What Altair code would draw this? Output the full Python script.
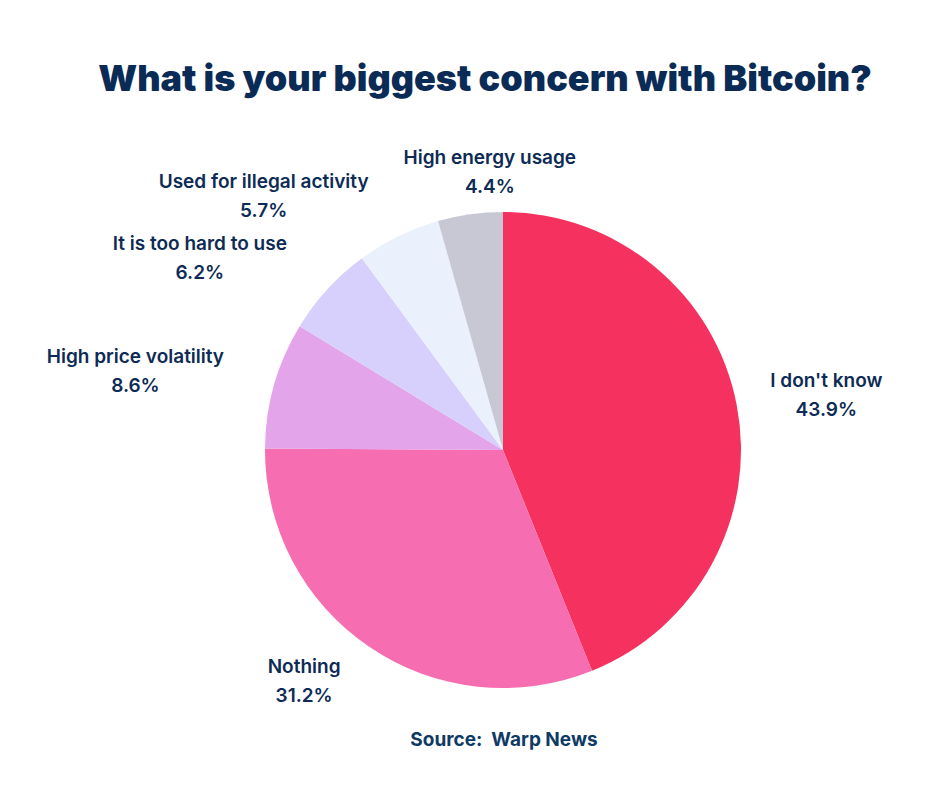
import math
import altair as alt
import pandas as pd

# ---- data ----
categories = ["I don't know", "Nothing", "High price volatility",
              "It is too hard to use", "Used for illegal activity", "High energy usage"]
values = [43.9, 31.2, 8.6, 6.2, 5.7, 4.4]
colors = ["#F5315F", "#F66DB1", "#E4A4EA", "#D8D0FC", "#EBF0FD", "#C8C8D4"]

title_text = "What is your biggest concern with Bitcoin?"
source_text = "Source:\u00a0\u00a0Warp News"

# ---- layout (label placement relative to slice mid-angle) ----
label_radius = [328, 305, 376, 359, 349, 278]
label_angle_shift = [1.3, 6.5, -3.7, -10.1, -17.2, 5.2]

W, H = 924, 772
CX, CY = 495, 442
R = 238
TEXT = "#0D2B55"
FONT = "Inter"

df = pd.DataFrame({"category": categories, "value": values,
                   "order": list(range(len(categories)))})
df["pct"] = [f"{v:.1f}%" for v in values]

total = sum(values)
cum = 0.0
lx, ly = [], []
for i, v in enumerate(values):
    mid = (cum + v / 2) / total * 360 + label_angle_shift[i]
    cum += v
    a = math.radians(mid)
    lx.append(label_radius[i] * math.sin(a))
    ly.append(label_radius[i] * math.cos(a))
df["lx"] = lx
df["ly"] = ly

pie = alt.Chart(df).mark_arc(outerRadius=R).encode(
    theta=alt.Theta("value:Q", stack=True),
    color=alt.Color("category:N", scale=alt.Scale(domain=categories, range=colors), legend=None),
    order=alt.Order("order:Q"),
    x=alt.value(CX),
    y=alt.value(CY),
)

xs = alt.X("lx:Q", scale=alt.Scale(domain=[-CX, W - CX]), axis=None)
ys = alt.Y("ly:Q", scale=alt.Scale(domain=[-(H - CY), CY]), axis=None)

lab = alt.Chart(df).mark_text(font=FONT, fontSize=19, fontWeight=600, color=TEXT,
                              baseline="middle", align="center", dy=-14).encode(
    x=xs, y=ys, text="category:N")
pct = alt.Chart(df).mark_text(font=FONT, fontSize=19, fontWeight=600, color=TEXT,
                              baseline="middle", align="center", dy=15).encode(
    x=xs, y=ys, text="pct:N")

title = alt.Chart(pd.DataFrame({"t": [title_text]})).mark_text(
    font=FONT, fontSize=36, fontWeight=900, color="#0B2B57", baseline="middle", align="center"
).encode(x=alt.value(477), y=alt.value(72), text="t:N")

source = alt.Chart(pd.DataFrame({"t": [source_text]})).mark_text(
    font=FONT, fontSize=19, fontWeight=700, color="#0E3A66", baseline="middle", align="center"
).encode(x=alt.value(496), y=alt.value(732), text="t:N")

chart = alt.layer(pie, lab, pct, title, source).properties(
    width=W, height=H, padding=0, background="white",
    autosize=alt.AutoSizeParams(type="none")
).configure_view(stroke="transparent", strokeWidth=0)

chart.save("out.html", embed_options={"renderer": "svg", "actions": False})
